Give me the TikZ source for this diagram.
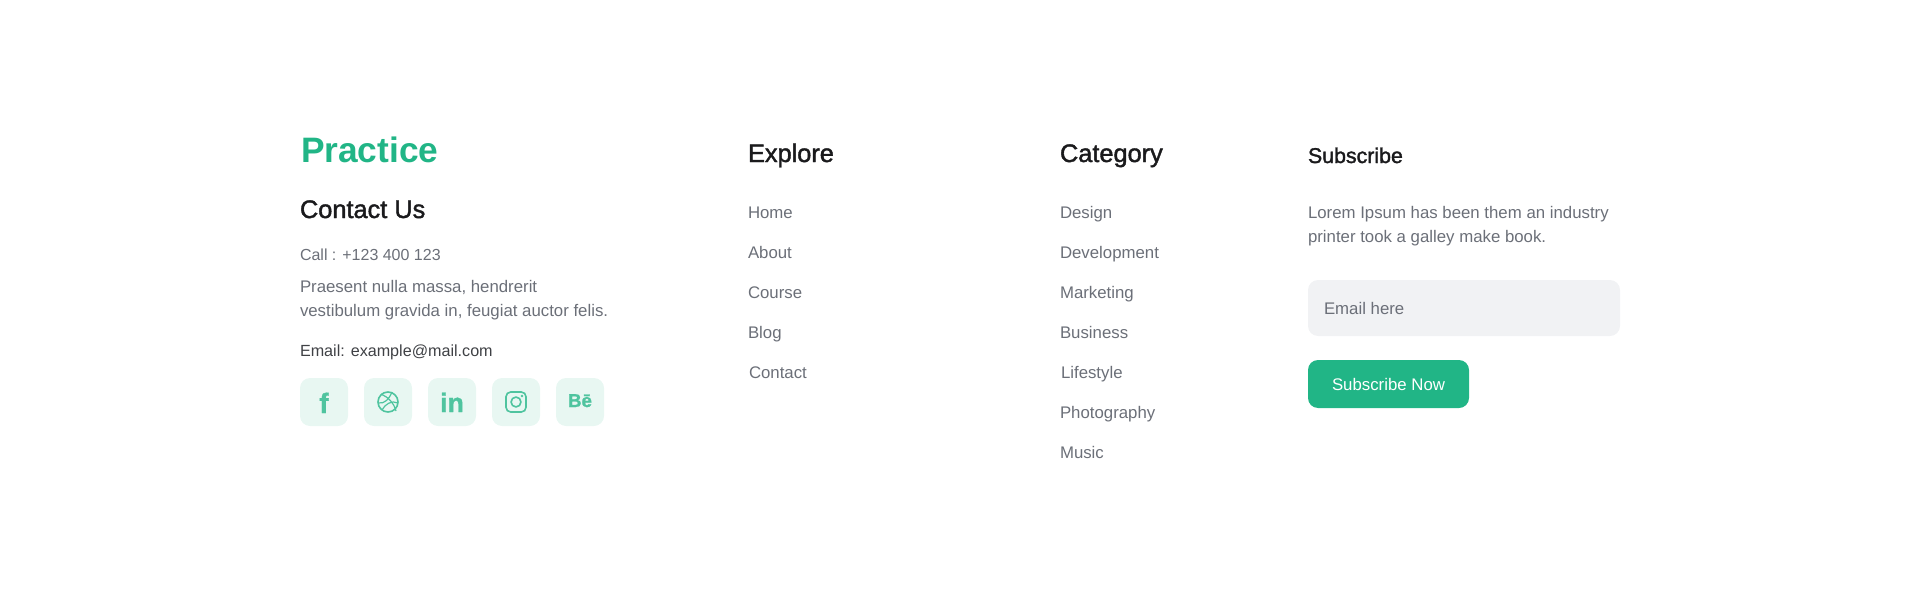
\documentclass[tikz,border=0pt]{standalone}
\usepackage{fontspec}
\setmainfont{Liberation Sans}
\newfontfamily\logofont{Liberation Sans Bold}
\newfontfamily\headfont[FakeBold=1.6]{Liberation Sans}
\newfontfamily\markfont[FakeBold=1.2]{Liberation Sans Bold}
\definecolor{brand}{HTML}{21B586}
\definecolor{softbrand}{HTML}{E8F7F2}
\definecolor{iconbrand}{HTML}{4FC49F}
\definecolor{inkdark}{HTML}{1A1A1C}
\definecolor{inkmid}{HTML}{3F4145}
\definecolor{inkgray}{HTML}{6B6F78}
\definecolor{fieldgray}{HTML}{F1F2F4}
\begin{document}
\begin{tikzpicture}[
  x=0.75pt, y=-0.75pt,
  every node/.style={inner sep=0pt, outer sep=0pt, anchor=base west},
  logotext/.style={font=\fontsize{26.5}{32}\logofont, text=brand},
  heading/.style={font=\fontsize{19}{22}\headfont, text=inkdark},
  subheading/.style={font=\fontsize{16}{18}\headfont, text=inkdark},
  bodytext/.style={font=\fontsize{12.6}{18}\selectfont, text=inkgray},
  darktext/.style={font=\fontsize{12.1}{18}\selectfont, text=inkmid},
  iconbox/.style={rectangle, fill=softbrand, rounded corners=7.5pt, minimum size=36pt, anchor=center},
  iconline/.style={draw=iconbrand, line width=1.2pt},
  icontext/.style={text=iconbrand, anchor=base},
]
\useasboundingbox (0,0) rectangle (1920,592);

% Contact column
\node[logotext] (logo) at (301, 162) {Practice};
\node[heading] (contact) at (300, 218) {Contact Us};
\node[bodytext, font=\fontsize{12}{18}\selectfont] (call) at (300, 260) {Call : +123 400 123};
\node[bodytext] (addr1) at (300, 292) {Praesent nulla massa, hendrerit};
\node[bodytext] (addr2) at (300, 316) {vestibulum gravida in, feugiat auctor felis.};
\node[darktext] (mail) at (300, 356) {Email: example@mail.com};

% Social icons
\foreach \n/\x in {fb/324, dr/388, li/452, ig/516, be/580}
  \node[iconbox] (\n) at (\x, 402) {};
\node[icontext, font=\fontsize{21}{22}\markfont] (fbmark) at (324, 413) {f};
\draw[iconline] (dr) circle (7.5pt);
\draw[iconline, line width=0.9pt] (381, 394) .. controls (388, 397) and (394, 403) .. (396, 411);
\draw[iconline, line width=0.9pt] (392, 392) .. controls (389, 399) and (385, 404) .. (378, 403);
\draw[iconline, line width=0.9pt] (398, 403) .. controls (392, 400) and (385, 404) .. (382, 410);
\node[icontext, font=\fontsize{20}{20}\markfont] (limark) at (452, 412) {in};
\draw[iconline, rounded corners=3.5pt] (506, 392) rectangle (526, 412);
\draw[iconline] (ig) circle (3.7pt);
\fill[iconbrand] (522, 396) circle (1pt);
\node[icontext, font=\fontsize{14}{14}\markfont] (bemark) at (580, 407) {Bē};

% Explore column
\node[heading] (explore) at (748, 162) {Explore};
\foreach \n/\t/\y in {home/Home/218, about/About/258, course/Course/298, blog/Blog/338}
  \node[bodytext] (\n) at (748, \y) {\t};
\node[bodytext] (contactlink) at (749, 378) {Contact};

% Category column
\node[heading] (category) at (1060, 162) {Category};
\foreach \n/\t/\y in {design/Design/218, dev/Development/258, market/Marketing/298, biz/Business/338, photo/Photography/418, music/Music/458}
  \node[bodytext] (\n) at (1060, \y) {\t};
\node[bodytext] (life) at (1061, 378) {Lifestyle};

% Subscribe column
\node[subheading] (subscribe) at (1308, 163) {Subscribe};
\node[bodytext] (lorem1) at (1308, 218) {Lorem Ipsum has been them an industry};
\node[bodytext] (lorem2) at (1308, 242) {printer took a galley make book.};
\fill[fieldgray, rounded corners=7.5pt] (1308, 280) rectangle (1620, 336);
\node[bodytext] (field) at (1324, 314) {Email here};
\fill[brand, rounded corners=7.5pt] (1308, 360) rectangle (1469, 408);
\node[bodytext, text=white, anchor=base] (button) at (1388.5, 390) {Subscribe Now};

\end{tikzpicture}
\end{document}
